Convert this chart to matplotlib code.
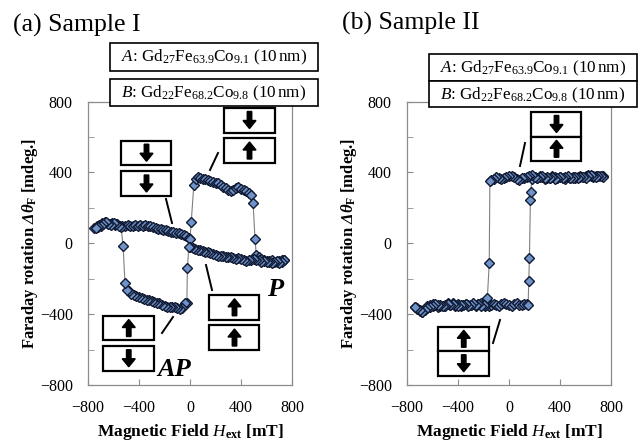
import matplotlib
matplotlib.use("Agg")
import matplotlib.pyplot as plt
from matplotlib.patches import Rectangle, FancyArrow

plt.rcParams["font.family"] = ["Liberation Serif", "DejaVu Serif"]
plt.rcParams["mathtext.fontset"] = "custom"
plt.rcParams["mathtext.rm"] = "Liberation Serif"
plt.rcParams["mathtext.it"] = "Liberation Serif:italic"
plt.rcParams["mathtext.bf"] = "Liberation Serif:bold"
plt.rcParams["mathtext.bfit"] = "Liberation Serif:italic:bold"

# ---- data (field in mT, rotation in mdeg.) ----
# Sample I, sweep from -750 mT upwards
a_up_field = [-750, -730, -710, -690, -670, -650, -630, -610, -590, -570,
              -550, -530, -510, -490, -470, -450, -430, -410, -390, -370,
              -350, -330, -310, -290, -270, -250, -230, -210, -190, -170,
              -150, -130, -110, -90, -70, -50, -30, -10, 0, 10,
              30, 45, 60, 80, 100, 120, 140, 160, 180, 200,
              220, 240, 260, 280, 300, 320, 340, 360, 380, 400,
              420, 440, 460, 480, 495, 510, 520, 540, 560, 580,
              600, 620, 640, 660, 680, 700, 720, 740]
a_up_rot = [85, 95, 105, 112, 120, 115, 108, 112, 103, 106,
            98, 100, 95, 102, 96, 99, 104, 100, 102, 98,
            101, 95, 98, 92, 88, 82, 78, 74, 72, 67,
            63, 62, 58, 56, 50, 46, 40, 32, 26, 122,
            330, 360, 372, 366, 365, 360, 356, 352, 348, 342,
            340, 330, 318, 310, 300, 295, 300, 312, 318, 308,
            302, 296, 285, 275, 225, 22, -68, -80, -88, -92,
            -98, -102, -96, -104, -108, -100, -96, -92]

# Sample I, sweep from +750 mT downwards
a_down_field = [740, 720, 700, 680, 660, 640, 620, 600, 580, 560,
                540, 520, 500, 480, 460, 440, 420, 400, 380, 360,
                340, 320, 300, 280, 260, 240, 220, 200, 180, 160,
                140, 120, 100, 80, 60, 40, 20, 0, -10, -20,
                -25, -40, -60, -80, -100, -120, -140, -160, -180, -200,
                -220, -240, -260, -280, -300, -320, -340, -360, -380, -400,
                -420, -440, -460, -480, -495, -510, -525, -540, -560, -580,
                -600, -620, -640, -660, -680, -700, -720, -740]
a_down_rot = [-96, -106, -110, -100, -106, -110, -104, -108, -100, -104,
              -96, -92, -88, -94, -96, -98, -92, -90, -86, -90,
              -84, -80, -78, -78, -74, -72, -70, -64, -58, -54,
              -50, -48, -44, -40, -36, -30, -24, -20, -22, -140,
              -335, -338, -368, -373, -366, -362, -360, -358, -362, -352,
              -346, -340, -336, -330, -328, -322, -318, -314, -308, -302,
              -296, -292, -284, -272, -262, -222, -15, 90, 96, 108,
              112, 104, 110, 118, 108, 100, 92, 88]

# Sample II, sweep from -750 mT upwards
b_up_field = [-740, -720, -700, -680, -660, -640, -620, -600, -580, -560,
              -540, -520, -500, -480, -460, -440, -420, -400, -380, -360,
              -340, -320, -300, -280, -260, -240, -220, -200, -180, -160,
              -140, -120, -100, -80, -60, -40, -20, 0, 20, 40,
              60, 80, 100, 120, 140, 150, 155, 160, 168, 172,
              178, 200, 220, 240, 260, 280, 300, 320, 340, 360,
              380, 400, 420, 440, 460, 480, 500, 520, 540, 560,
              580, 600, 620, 640, 660, 680, 700, 720, 740]
b_up_rot = [-358, -372, -380, -388, -370, -355, -350, -343, -350, -358,
            -352, -354, -346, -340, -348, -339, -352, -345, -355, -348,
            -342, -350, -346, -343, -352, -345, -340, -339, -350, -355,
            -348, -345, -348, -352, -344, -340, -343, -348, -352, -345,
            -339, -346, -350, -342, -345, -349, -213, -85, 245, 291,
            360, 375, 368, 378, 372, 365, 370, 367, 378, 372,
            366, 376, 370, 365, 372, 367, 374, 370, 376, 380,
            372, 378, 385, 382, 375, 379, 382, 378, 380]

# Sample II, sweep from +750 mT downwards
b_down_field = [740, 720, 700, 680, 660, 640, 620, 600, 580, 560,
                540, 520, 500, 480, 460, 440, 420, 400, 380, 360,
                340, 320, 300, 280, 260, 240, 220, 200, 180, 160,
                140, 120, 100, 80, 60, 40, 20, 0, -20, -40,
                -60, -80, -100, -120, -140, -150, -155, -170, -185, -200,
                -220, -240, -260, -280, -300, -320, -340, -360, -380, -400,
                -420, -440, -460, -480, -500, -520, -540, -560, -580, -600,
                -620, -640, -660, -680, -700, -720, -740]
b_down_rot = [376, 382, 378, 372, 380, 384, 378, 370, 376, 372,
              368, 372, 366, 370, 378, 372, 368, 374, 370, 365,
              372, 367, 374, 370, 378, 376, 370, 372, 385, 378,
              372, 366, 370, 358, 365, 372, 378, 380, 372, 368,
              362, 367, 372, 360, 356, 352, -113, -311, -355, -346,
              -352, -344, -350, -340, -348, -352, -343, -350, -346, -355,
              -348, -342, -350, -345, -352, -356, -347, -351, -344, -352,
              -360, -368, -374, -386, -378, -366, -360]

panel_titles = ["(a) Sample I", "(b) Sample II"]
layer_a = r"$A$: Gd$_{27}$Fe$_{63.9}$Co$_{9.1}$ (10$\,$nm)"
layer_b = r"$B$: Gd$_{22}$Fe$_{68.2}$Co$_{9.8}$ (10$\,$nm)"
x_ticks = [-800, -400, 0, 400, 800]
y_ticks = [-800, -400, 0, 400, 800]
y_minor = [-600, -200, 200, 600]

W, H = 644, 445
fig = plt.figure(figsize=(W / 100, H / 100), dpi=100)

def px_axes(x0, y0, x1, y1):
    return fig.add_axes([x0 / W, 1 - y1 / H, (x1 - x0) / W, (y1 - y0) / H])

ax_a = px_axes(88, 101.5, 292, 385)
ax_b = px_axes(407, 101.5, 611, 385)

grey = "#8c8c8c"
for ax, sweeps in [(ax_a, [(a_up_field, a_up_rot), (a_down_field, a_down_rot)]),
                   (ax_b, [(b_up_field, b_up_rot), (b_down_field, b_down_rot)])]:
    for fld, rot in sweeps:
        ax.plot(fld, rot, color="#808080", lw=0.8, marker="D", ms=5,
                mfc="#6f93c8", mec="#101a33", mew=1.0)
    ax.set_xlim(-800, 800)
    ax.set_ylim(-800, 800)
    ax.set_xticks(x_ticks)
    ax.set_yticks(y_ticks)
    ax.set_yticks(y_minor, minor=True)
    ax.tick_params(which="both", direction="in", color=grey, length=4,
                   labelsize=11.5, pad=11)
    for s in ax.spines.values():
        s.set_color(grey)
        s.set_linewidth(0.9)
    ax.set_xlabel(r"Magnetic Field $\mathit{H}_{\mathbf{ext}}$ [mT]",
                  fontsize=12.5, fontweight="bold", labelpad=4)
    ax.set_ylabel(r"Faraday rotation $\mathbfit{\Delta\theta}_{\mathbf{F}}$ [mdeg.]",
                  fontsize=12, fontweight="bold")
    ax.yaxis.set_label_coords(-0.235, 0.5)

# overlay in image pixel coordinates for boxes, arrows and labels
ov = fig.add_axes([0, 0, 1, 1], zorder=5)
ov.set_xlim(0, W)
ov.set_ylim(H, 0)
ov.axis("off")

fig.text(13 / W, 1 - 25 / H, panel_titles[0], fontsize=18.5, va="center")
fig.text(342 / W, 1 - 23 / H, panel_titles[1], fontsize=18.5, va="center")

def text_box(x0, y0, x1, y1, txt):
    ov.add_patch(Rectangle((x0, y0), x1 - x0, y1 - y0, fc="white",
                           ec="black", lw=1.2))
    ov.text((x0 + x1) / 2, (y0 + y1) / 2 + 1, txt, ha="center", va="center",
            fontsize=12.3)

text_box(110, 43, 318, 70.5, layer_a)
text_box(110, 79, 318, 106, layer_b)
text_box(429, 53.5, 637, 81, layer_a)
text_box(429, 81, 637, 107, layer_b)

def spin(x0, y0, x1, y1, up):
    ov.add_patch(Rectangle((x0, y0), x1 - x0, y1 - y0, fc="white",
                           ec="black", lw=1.6))
    cx, cy = (x0 + x1) / 2, (y0 + y1) / 2
    half = 8.5
    if up:
        ov.add_patch(FancyArrow(cx, cy + half, 0, -2 * half, width=4.5,
                                head_width=13, head_length=8,
                                length_includes_head=True, color="black"))
    else:
        ov.add_patch(FancyArrow(cx, cy - half, 0, 2 * half, width=4.5,
                                head_width=13, head_length=8,
                                length_includes_head=True, color="black"))

# sample I spin configurations
spin(121.5, 140.5, 171.5, 165, False)
spin(121.5, 171, 171.5, 196, False)
spin(224, 107.5, 275, 132.5, False)
spin(224, 138, 275, 163, True)
spin(209.5, 295, 259.5, 319.5, True)
spin(209.5, 325, 259.5, 350, True)
spin(103.5, 316, 154, 340, True)
spin(103.5, 346, 154, 370.5, False)
# sample II spin configurations
spin(531.5, 111.5, 581.5, 136.5, False)
spin(531.5, 136.5, 581.5, 161, True)
spin(438.5, 326.5, 489, 351, True)
spin(438.5, 351, 489, 375.5, False)

for (xa, ya), (xb, yb) in [((166, 199), (172, 223)), ((218, 153), (210, 170)),
                           ((206, 265), (212, 290)), ((162, 333), (173, 317)),
                           ((520, 166), (525, 143)), ((493, 343), (500, 320))]:
    ov.plot([xa, xb], [ya, yb], color="black", lw=1.4)

ov.text(275, 290, "P", fontsize=19, fontweight="bold", fontstyle="italic",
        ha="center", va="center")
ov.text(174, 369, "AP", fontsize=19, fontweight="bold", fontstyle="italic",
        ha="center", va="center")

fig.savefig("out.png", dpi=100)
